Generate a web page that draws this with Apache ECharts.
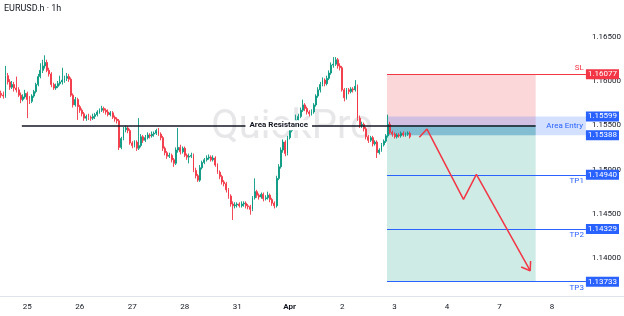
<!DOCTYPE html>
<html><head><meta charset="utf-8">
<script src="https://cdn.jsdelivr.net/npm/echarts@6/dist/echarts.min.js"></script>
<style>html,body{margin:0;padding:0;background:#fff}#c{width:624px;height:316px}</style>
</head><body><div id="c"></div>
<script>
// ---- hourly candles (open, close, low, high) ----
const opens = [
1.1586,1.1584,1.1583,1.1606,1.1599,1.1593,1.1596,1.1592,1.1590,1.1584,
1.1579,1.1582,1.1586,1.1579,1.1577,1.1583,1.1588,1.1596,1.1605,1.1612,
1.1617,1.1621,1.1612,1.1608,1.1596,1.1592,1.1594,1.1597,1.1599,1.1601,
1.1603,1.1605,1.1602,1.1584,1.1573,1.1579,1.1571,1.1567,1.1563,1.1558,
1.1560,1.1559,1.1558,1.1560,1.1562,1.1565,1.1567,1.1569,1.1567,1.1565,
1.1562,1.1564,1.1559,1.1557,1.1555,1.1525,1.1535,1.1545,1.1547,1.1544,
1.1530,1.1527,1.1531,1.1524,1.1527,1.1537,1.1533,1.1536,1.1539,1.1538,
1.1540,1.1541,1.1544,1.1540,1.1536,1.1524,1.1519,1.1515,1.1516,1.1511,
1.1507,1.1522,1.1525,1.1520,1.1524,1.1516,1.1514,1.1515,1.1516,1.1499,
1.1493,1.1488,1.1502,1.1508,1.1511,1.1513,1.1514,1.1511,1.1513,1.1505,
1.1497,1.1492,1.1486,1.1484,1.1477,1.1470,1.1461,1.1459,1.1460,1.1461,
1.1459,1.1461,1.1462,1.1459,1.1458,1.1455,1.1468,1.1475,1.1471,1.1469,
1.1472,1.1467,1.1468,1.1471,1.1466,1.1462,1.1459,1.1490,1.1503,1.1522,
1.1531,1.1518,1.1536,1.1544,1.1547,1.1551,1.1556,1.1560,1.1567,1.1573,
1.1569,1.1565,1.1563,1.1565,1.1573,1.1583,1.1590,1.1596,1.1601,1.1597,
1.1603,1.1609,1.1618,1.1619,1.1624,1.1617,1.1615,1.1590,1.1581,1.1590,
1.1588,1.1591,1.1590,1.1594,1.1558,1.1550,1.1551,1.1546,1.1537,1.1533,
1.1536,1.1529,1.1531,1.1519,1.1522,1.1528,1.1532,1.1538,1.1551,1.1542,
1.1540,1.1537,1.1539,1.1538,1.1541,1.1539,1.1540,1.1541];
const closes = [
1.1584,1.1583,1.1606,1.1599,1.1593,1.1596,1.1592,1.1590,1.1584,1.1579,
1.1582,1.1586,1.1579,1.1577,1.1583,1.1588,1.1596,1.1605,1.1612,1.1617,
1.1621,1.1612,1.1608,1.1596,1.1592,1.1594,1.1597,1.1599,1.1601,1.1603,
1.1605,1.1602,1.1584,1.1573,1.1579,1.1571,1.1567,1.1563,1.1558,1.1560,
1.1559,1.1558,1.1560,1.1562,1.1565,1.1567,1.1569,1.1567,1.1565,1.1562,
1.1564,1.1559,1.1557,1.1555,1.1525,1.1535,1.1545,1.1547,1.1544,1.1530,
1.1527,1.1531,1.1524,1.1527,1.1537,1.1533,1.1536,1.1539,1.1538,1.1540,
1.1541,1.1544,1.1540,1.1536,1.1524,1.1519,1.1515,1.1516,1.1511,1.1507,
1.1522,1.1525,1.1520,1.1524,1.1516,1.1514,1.1515,1.1516,1.1499,1.1493,
1.1488,1.1502,1.1508,1.1511,1.1513,1.1514,1.1511,1.1513,1.1505,1.1497,
1.1492,1.1486,1.1484,1.1477,1.1470,1.1461,1.1459,1.1460,1.1461,1.1459,
1.1461,1.1462,1.1459,1.1458,1.1455,1.1468,1.1475,1.1471,1.1469,1.1472,
1.1467,1.1468,1.1471,1.1466,1.1462,1.1459,1.1490,1.1503,1.1522,1.1531,
1.1518,1.1536,1.1544,1.1547,1.1551,1.1556,1.1560,1.1567,1.1573,1.1569,
1.1565,1.1563,1.1565,1.1573,1.1583,1.1590,1.1596,1.1601,1.1597,1.1603,
1.1609,1.1618,1.1619,1.1624,1.1617,1.1615,1.1590,1.1581,1.1590,1.1588,
1.1591,1.1590,1.1594,1.1558,1.1550,1.1551,1.1546,1.1537,1.1533,1.1536,
1.1529,1.1531,1.1519,1.1522,1.1528,1.1532,1.1538,1.1551,1.1542,1.1540,
1.1537,1.1539,1.1538,1.1541,1.1539,1.1540,1.1541,1.1537];
const lows = [
1.1581,1.1580,1.1581,1.1596,1.1590,1.1591,1.1588,1.1587,1.1582,1.1575,
1.1577,1.1580,1.1558,1.1574,1.1575,1.1581,1.1586,1.1594,1.1603,1.1609,
1.1614,1.1610,1.1605,1.1593,1.1590,1.1590,1.1592,1.1595,1.1596,1.1598,
1.1600,1.1599,1.1582,1.1570,1.1571,1.1556,1.1564,1.1560,1.1555,1.1555,
1.1556,1.1555,1.1556,1.1557,1.1560,1.1563,1.1565,1.1564,1.1562,1.1560,
1.1560,1.1557,1.1554,1.1552,1.1522,1.1523,1.1533,1.1542,1.1541,1.1528,
1.1524,1.1525,1.1521,1.1522,1.1525,1.1530,1.1531,1.1534,1.1535,1.1536,
1.1537,1.1539,1.1538,1.1533,1.1521,1.1516,1.1512,1.1513,1.1508,1.1503,
1.1505,1.1519,1.1517,1.1518,1.1514,1.1511,1.1507,1.1513,1.1497,1.1490,
1.1486,1.1486,1.1500,1.1506,1.1509,1.1511,1.1509,1.1509,1.1503,1.1495,
1.1489,1.1483,1.1481,1.1474,1.1467,1.1458,1.1443,1.1456,1.1457,1.1457,
1.1457,1.1458,1.1456,1.1455,1.1449,1.1453,1.1466,1.1468,1.1466,1.1467,
1.1464,1.1465,1.1466,1.1463,1.1459,1.1456,1.1457,1.1488,1.1501,1.1519,
1.1515,1.1516,1.1534,1.1542,1.1545,1.1549,1.1554,1.1558,1.1565,1.1566,
1.1562,1.1560,1.1561,1.1563,1.1571,1.1581,1.1587,1.1594,1.1594,1.1595,
1.1601,1.1607,1.1615,1.1617,1.1614,1.1612,1.1588,1.1577,1.1579,1.1585,
1.1586,1.1587,1.1588,1.1555,1.1547,1.1547,1.1543,1.1534,1.1530,1.1531,
1.1526,1.1527,1.1513,1.1517,1.1520,1.1526,1.1530,1.1536,1.1540,1.1537,
1.1535,1.1535,1.1536,1.1536,1.1537,1.1537,1.1538,1.1535];
const highs = [
1.1589,1.1588,1.1617,1.1609,1.1602,1.1600,1.1599,1.1605,1.1593,1.1587,
1.1585,1.1590,1.1588,1.1583,1.1585,1.1590,1.1598,1.1608,1.1620,1.1624,
1.1629,1.1624,1.1615,1.1610,1.1598,1.1597,1.1600,1.1606,1.1615,1.1606,
1.1609,1.1608,1.1604,1.1586,1.1582,1.1581,1.1573,1.1569,1.1565,1.1562,
1.1563,1.1561,1.1563,1.1564,1.1567,1.1569,1.1572,1.1571,1.1569,1.1568,
1.1566,1.1566,1.1561,1.1559,1.1557,1.1537,1.1548,1.1550,1.1549,1.1546,
1.1532,1.1533,1.1533,1.1558,1.1540,1.1539,1.1539,1.1542,1.1541,1.1543,
1.1543,1.1546,1.1547,1.1542,1.1538,1.1526,1.1521,1.1519,1.1518,1.1513,
1.1525,1.1547,1.1528,1.1526,1.1526,1.1518,1.1518,1.1519,1.1518,1.1502,
1.1495,1.1505,1.1510,1.1513,1.1516,1.1517,1.1516,1.1516,1.1515,1.1507,
1.1499,1.1494,1.1488,1.1486,1.1479,1.1472,1.1464,1.1463,1.1463,1.1463,
1.1464,1.1464,1.1464,1.1461,1.1460,1.1470,1.1490,1.1477,1.1473,1.1474,
1.1474,1.1471,1.1475,1.1473,1.1468,1.1464,1.1493,1.1506,1.1525,1.1534,
1.1533,1.1538,1.1546,1.1550,1.1554,1.1562,1.1563,1.1570,1.1579,1.1575,
1.1571,1.1567,1.1568,1.1575,1.1585,1.1593,1.1599,1.1604,1.1603,1.1606,
1.1612,1.1621,1.1627,1.1627,1.1626,1.1620,1.1617,1.1592,1.1592,1.1592,
1.1593,1.1593,1.1601,1.1596,1.1561,1.1554,1.1553,1.1548,1.1539,1.1538,
1.1538,1.1533,1.1533,1.1524,1.1530,1.1534,1.1540,1.1562,1.1554,1.1544,
1.1542,1.1541,1.1541,1.1543,1.1543,1.1542,1.1543,1.1543];

// ---- axes ----
const slotCount = 268;                 // hourly slots across the plot
const dayTickIndex = [12,36,60,84,108,132,156,180,204,228,252];
const dayTickLabel = ['25','26','27','28','31','Apr','2','3','4','7','8'];
const priceTicks = [1.14,1.145,1.15,1.155,1.16,1.165];
const priceMin = 1.13571, priceMax = 1.16915;

// ---- drawing levels ----
const stopLoss = 1.16077;
const entryTop = 1.15599, entryBottom = 1.15388;
const entryPrice = 1.1550;
const takeProfits = [1.14940, 1.14329, 1.13733];
const takeProfitNames = ['TP1','TP2','TP3'];
const resistance = 1.1550;
const resistanceFrom = 10, positionFrom = 177, positionTo = 245;

// ---- projected path (slot units, price) ----
const pathX = [191.8,195.3,212.0,217.9,242.5];
const pathY = [1.15364,1.15457,1.14663,1.14946,1.13857];
const headX = [238.4,242.5,242.7];
const headY = [1.13898,1.13857,1.13966];

const UP='#089981', DOWN='#f23645', BLUE='#2962ff', INK='#131722';
const FONT='Roboto, "Liberation Sans", sans-serif';

const cats=[]; for(let i=0;i<slotCount;i++) cats.push(String(i));
const candles = opens.map((o,i)=>[o,closes[i],lows[i],highs[i]]);

function boxLabel(text,bg){return {show:true,position:'end',formatter:text,backgroundColor:bg,color:'#fff',
  fontSize:8,fontFamily:FONT,padding:[1,2,0,2],lineHeight:9,distance:0};}
function hLine(price,from,to,lineStyle,label){
  return [{coord:[from,price],lineStyle:lineStyle,label:label},{coord:[to,price]}];
}
const hidden={color:'rgba(0,0,0,0)',width:1};
const lineData=[];
// stop loss
lineData.push(hLine(stopLoss,positionFrom,slotCount,{color:DOWN,width:1,type:'solid'},boxLabel(stopLoss.toFixed(5),DOWN)));
lineData.push(hLine(stopLoss,positionFrom,slotCount,hidden,{show:true,position:'insideEndTop',formatter:'SL',color:DOWN,fontSize:8,fontFamily:FONT,distance:2}));
// entry labels
lineData.push(hLine(entryTop,positionFrom,slotCount,hidden,boxLabel(entryTop.toFixed(5),BLUE)));
lineData.push(hLine(entryBottom,positionFrom,slotCount,hidden,boxLabel(entryBottom.toFixed(5),BLUE)));
// take profits
takeProfits.forEach((p,k)=>{
  lineData.push(hLine(p,positionFrom,slotCount,{color:BLUE,width:1.2,type:'solid'},boxLabel(p.toFixed(5),BLUE)));
  lineData.push(hLine(p,positionFrom,slotCount,hidden,{show:true,position:'insideEndBottom',formatter:takeProfitNames[k],color:BLUE,fontSize:8,fontFamily:FONT,distance:2}));
});
// resistance
lineData.push(hLine(resistance,resistanceFrom,positionTo,{color:INK,width:1.5,type:'solid'},
  {show:true,position:'middle',formatter:'Area Resistance',backgroundColor:'#fff',color:INK,fontWeight:'bold',fontSize:8,fontFamily:FONT,padding:[1,4],distance:-5}));

const option={
  animation:false,
  backgroundColor:'#fff',
  grid:{left:0,right:37,top:0,bottom:20,containLabel:false},
  xAxis:[
    {type:'category',data:cats,boundaryGap:true,axisLine:{show:false},axisTick:{show:false},splitLine:{show:false},
     axisLabel:{interval:(idx)=>dayTickIndex.indexOf(idx)>=0,
       formatter:(v,idx)=>{const k=dayTickIndex.indexOf(Number(v)); if(k<0) return ''; const t=dayTickLabel[k]; return t==='Apr'?'{b|Apr}':t;},
       fontSize:8,color:INK,fontFamily:FONT,margin:7,rich:{b:{fontWeight:'bold',fontSize:8,color:INK,fontFamily:FONT}}}},
    {type:'value',min:0,max:slotCount,show:false}
  ],
  yAxis:[{type:'value',position:'right',min:priceMin,max:priceMax,axisLine:{show:false},axisTick:{show:false},splitLine:{show:false},
    axisLabel:{customValues:priceTicks,formatter:(v)=>v.toFixed(5),fontSize:8,color:INK,fontFamily:FONT,margin:6}}],
  graphic:[
    {type:'text',left:4,top:4,z:0,style:{text:'EURUSD.h · 1h',fontSize:9,fill:INK,fontFamily:FONT}},
    {type:'text',x:292,y:128,z:0,style:{text:'QuickPro',fontSize:40,fill:'rgba(120,123,134,0.18)',fontFamily:FONT,align:'center',verticalAlign:'middle'}},
    {type:'line',z:0,shape:{x1:0,y1:296.5,x2:624,y2:296.5},style:{stroke:'#e0e3eb',lineWidth:1}}
  ],
  series:[
    {type:'candlestick',name:'EURUSD',xAxisIndex:0,yAxisIndex:0,data:candles,barWidth:1.4,z:2,
     itemStyle:{color:UP,color0:DOWN,borderColor:UP,borderColor0:DOWN,borderWidth:0.9}},
    {type:'line',name:'zones',xAxisIndex:1,yAxisIndex:0,data:[],z:3,clip:false,silent:true,
     markArea:{silent:true,data:[
       [{coord:[positionFrom,stopLoss],itemStyle:{color:'rgba(242,54,69,0.2)'}},{coord:[positionTo,entryPrice]}],
       [{coord:[positionFrom,entryPrice],itemStyle:{color:'rgba(8,153,129,0.2)'}},{coord:[positionTo,takeProfits[2]]}],
       [{coord:[positionFrom,entryTop],itemStyle:{color:'rgba(41,98,255,0.2)'},
         label:{show:true,position:'insideRight',formatter:'Area Entry',color:BLUE,fontSize:8,fontFamily:FONT,distance:3}},
        {coord:[slotCount,entryBottom]}],
       [{coord:[positionFrom,entryPrice],itemStyle:{color:'rgba(8,130,130,0.25)'}},{coord:[positionTo,entryBottom]}]
     ]}},
    {type:'line',name:'levels',xAxisIndex:1,yAxisIndex:0,data:[],z:4,clip:false,silent:true,
     markLine:{silent:true,symbol:['none','none'],data:lineData}},
    {type:'line',name:'path',xAxisIndex:1,yAxisIndex:0,data:pathX.map((x,i)=>[x,pathY[i]]),z:5,clip:false,silent:true,
     showSymbol:false,lineStyle:{color:DOWN,width:1.5}},
    {type:'line',name:'head',xAxisIndex:1,yAxisIndex:0,data:headX.map((x,i)=>[x,headY[i]]),z:5,clip:false,silent:true,
     showSymbol:false,lineStyle:{color:DOWN,width:1.5}}
  ]
};
const chart=echarts.init(document.getElementById('c'),null,{renderer:'canvas'});
chart.setOption(option);
</script></body></html>
